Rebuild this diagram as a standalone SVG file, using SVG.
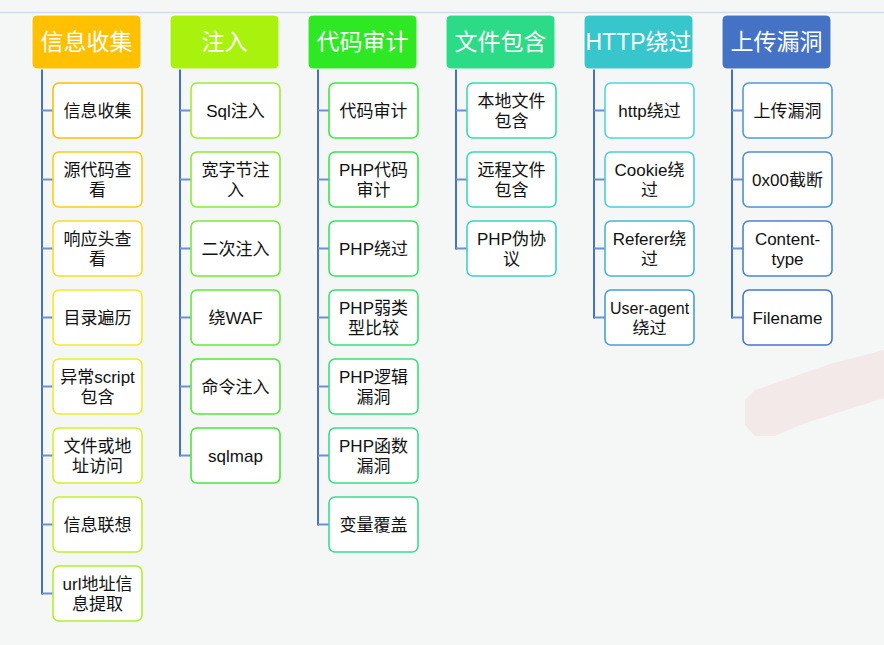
<svg xmlns="http://www.w3.org/2000/svg" width="884" height="645" viewBox="0 0 884 645">
<style>
text{font-family:"Liberation Sans","Noto Sans CJK SC",sans-serif;text-anchor:middle;}
.h text{fill:#ffffff;font-size:23px;}
.h rect{stroke:#ffffff;stroke-width:1;}
.c rect{fill:#ffffff;stroke-width:1.6;}
.c text{fill:#111111;font-size:17px;}
.sp{stroke:#4472C4;stroke-width:2;fill:none;}
.br{stroke:#6F8FD0;stroke-width:1.8;fill:none;}
</style>
<rect x="0" y="0" width="884" height="645" fill="#F5F6F6"/>
<line x1="0" y1="12.5" x2="884" y2="12.5" stroke="#D3DCEC" stroke-width="1.6"/>
<polygon points="745,400 755,390 790,378 830,364 884,350 884,398 840,412 800,425 775,436 755,436 745,425" fill="#F4E9E9"/>

<g id="connectors">
<path class="sp" d="M42,69 V594.5"/>
<path class="br" d="M42,110.5H53 M42,179.5H53 M42,248.5H53 M42,317.5H53 M42,386.5H53 M42,455.5H53 M42,524.5H53 M42,593.5H53"/>
<path class="sp" d="M180,69 V456.5"/>
<path class="br" d="M180,110.5H191 M180,179.5H191 M180,248.5H191 M180,317.5H191 M180,386.5H191 M180,455.5H191"/>
<path class="sp" d="M318,69 V525.5"/>
<path class="br" d="M318,110.5H329 M318,179.5H329 M318,248.5H329 M318,317.5H329 M318,386.5H329 M318,455.5H329 M318,524.5H329"/>
<path class="sp" d="M456,69 V249.5"/>
<path class="br" d="M456,110.5H467 M456,179.5H467 M456,248.5H467"/>
<path class="sp" d="M594,69 V318.5"/>
<path class="br" d="M594,110.5H605 M594,179.5H605 M594,248.5H605 M594,317.5H605"/>
<path class="sp" d="M732,69 V318.5"/>
<path class="br" d="M732,110.5H743 M732,179.5H743 M732,248.5H743 M732,317.5H743"/>
</g>

<g id="h1" class="h"><rect x="32" y="15" width="109" height="54" rx="5" fill="#FFC000"/><text x="86.5" y="50">信息收集</text></g>
<g id="h2" class="h"><rect x="170" y="15" width="109" height="54" rx="5" fill="#A9F20E"/><text x="224.5" y="50">注入</text></g>
<g id="h3" class="h"><rect x="308" y="15" width="109" height="54" rx="5" fill="#2EE823"/><text x="362.5" y="50">代码审计</text></g>
<g id="h4" class="h"><rect x="446" y="15" width="109" height="54" rx="5" fill="#2CDB85"/><text x="500.5" y="50">文件包含</text></g>
<g id="h5" class="h"><rect x="584" y="15" width="109" height="54" rx="5" fill="#37C6CC"/><text x="638.5" y="50">HTTP绕过</text></g>
<g id="h6" class="h"><rect x="722" y="15" width="109" height="54" rx="5" fill="#4472C4"/><text x="776.5" y="50">上传漏洞</text></g>

<!-- column 1 -->
<g id="c1-1" class="c"><rect x="53" y="83" width="89" height="55" rx="6" stroke="#FFC000"/><text x="97.5" y="116.5">信息收集</text></g>
<g id="c1-2" class="c"><rect x="53" y="152" width="89" height="55" rx="6" stroke="#FFCC14"/><text x="97.5" y="175.5">源代码查</text><text x="97.5" y="195.5">看</text></g>
<g id="c1-3" class="c"><rect x="53" y="221" width="89" height="55" rx="6" stroke="#FFD924"/><text x="97.5" y="244.5">响应头查</text><text x="97.5" y="264.5">看</text></g>
<g id="c1-4" class="c"><rect x="53" y="290" width="89" height="55" rx="6" stroke="#F6EA2A"/><text x="97.5" y="323.5">目录遍历</text></g>
<g id="c1-5" class="c"><rect x="53" y="359" width="89" height="55" rx="6" stroke="#E6F02C"/><text x="97.5" y="382.5">异常script</text><text x="97.5" y="402.5">包含</text></g>
<g id="c1-6" class="c"><rect x="53" y="428" width="89" height="55" rx="6" stroke="#D4F02C"/><text x="97.5" y="451.5">文件或地</text><text x="97.5" y="471.5">址访问</text></g>
<g id="c1-7" class="c"><rect x="53" y="497" width="89" height="55" rx="6" stroke="#C2F02C"/><text x="97.5" y="530.5">信息联想</text></g>
<g id="c1-8" class="c"><rect x="53" y="566" width="89" height="55" rx="6" stroke="#AEEF2E"/><text x="97.5" y="589.5">url地址信</text><text x="97.5" y="609.5">息提取</text></g>

<!-- column 2 -->
<g id="c2-1" class="c"><rect x="191" y="83" width="89" height="55" rx="6" stroke="#9AF030"/><text x="235.5" y="116.5">Sql注入</text></g>
<g id="c2-2" class="c"><rect x="191" y="152" width="89" height="55" rx="6" stroke="#86EE32"/><text x="235.5" y="175.5">宽字节注</text><text x="235.5" y="195.5">入</text></g>
<g id="c2-3" class="c"><rect x="191" y="221" width="89" height="55" rx="6" stroke="#74EC36"/><text x="235.5" y="254.5">二次注入</text></g>
<g id="c2-4" class="c"><rect x="191" y="290" width="89" height="55" rx="6" stroke="#62EA38"/><text x="235.5" y="323.5">绕WAF</text></g>
<g id="c2-5" class="c"><rect x="191" y="359" width="89" height="55" rx="6" stroke="#56E83A"/><text x="235.5" y="392.5">命令注入</text></g>
<g id="c2-6" class="c"><rect x="191" y="428" width="89" height="55" rx="6" stroke="#4AE83A"/><text x="235.5" y="461.5">sqlmap</text></g>

<!-- column 3 -->
<g id="c3-1" class="c"><rect x="329" y="83" width="89" height="55" rx="6" stroke="#3EE840"/><text x="373.5" y="116.5">代码审计</text></g>
<g id="c3-2" class="c"><rect x="329" y="152" width="89" height="55" rx="6" stroke="#3AE652"/><text x="373.5" y="175.5">PHP代码</text><text x="373.5" y="195.5">审计</text></g>
<g id="c3-3" class="c"><rect x="329" y="221" width="89" height="55" rx="6" stroke="#38E462"/><text x="373.5" y="254.5">PHP绕过</text></g>
<g id="c3-4" class="c"><rect x="329" y="290" width="89" height="55" rx="6" stroke="#36E270"/><text x="373.5" y="313.5">PHP弱类</text><text x="373.5" y="333.5">型比较</text></g>
<g id="c3-5" class="c"><rect x="329" y="359" width="89" height="55" rx="6" stroke="#36E07C"/><text x="373.5" y="382.5">PHP逻辑</text><text x="373.5" y="402.5">漏洞</text></g>
<g id="c3-6" class="c"><rect x="329" y="428" width="89" height="55" rx="6" stroke="#36DE88"/><text x="373.5" y="451.5">PHP函数</text><text x="373.5" y="471.5">漏洞</text></g>
<g id="c3-7" class="c"><rect x="329" y="497" width="89" height="55" rx="6" stroke="#38DC94"/><text x="373.5" y="530.5">变量覆盖</text></g>

<!-- column 4 -->
<g id="c4-1" class="c"><rect x="467" y="83" width="89" height="55" rx="6" stroke="#3ADBA8"/><text x="511.5" y="106.5">本地文件</text><text x="511.5" y="126.5">包含</text></g>
<g id="c4-2" class="c"><rect x="467" y="152" width="89" height="55" rx="6" stroke="#3CD8B8"/><text x="511.5" y="175.5">远程文件</text><text x="511.5" y="195.5">包含</text></g>
<g id="c4-3" class="c"><rect x="467" y="221" width="89" height="55" rx="6" stroke="#3CD2C4"/><text x="511.5" y="244.5">PHP伪协</text><text x="511.5" y="264.5">议</text></g>

<!-- column 5 -->
<g id="c5-1" class="c"><rect x="605" y="83" width="89" height="55" rx="6" stroke="#50D6DA"/><text x="649.5" y="116.5">http绕过</text></g>
<g id="c5-2" class="c"><rect x="605" y="152" width="89" height="55" rx="6" stroke="#4CCCDA"/><text x="649.5" y="175.5">Cookie绕</text><text x="649.5" y="195.5">过</text></g>
<g id="c5-3" class="c"><rect x="605" y="221" width="89" height="55" rx="6" stroke="#4AB4D8"/><text x="649.5" y="244.5">Referer绕</text><text x="649.5" y="264.5">过</text></g>
<g id="c5-4" class="c"><rect x="605" y="290" width="89" height="55" rx="6" stroke="#4A9ED6"/><text x="649.5" y="313.5" style="font-size:16px">User-agent</text><text x="649.5" y="333.5">绕过</text></g>

<!-- column 6 -->
<g id="c6-1" class="c"><rect x="743" y="83" width="89" height="55" rx="6" stroke="#5598D6"/><text x="787.5" y="116.5">上传漏洞</text></g>
<g id="c6-2" class="c"><rect x="743" y="152" width="89" height="55" rx="6" stroke="#4F8ED4"/><text x="787.5" y="185.5">0x00截断</text></g>
<g id="c6-3" class="c"><rect x="743" y="221" width="89" height="55" rx="6" stroke="#4A82D0"/><text x="787.5" y="244.5">Content-</text><text x="787.5" y="264.5">type</text></g>
<g id="c6-4" class="c"><rect x="743" y="290" width="89" height="55" rx="6" stroke="#4676CC"/><text x="787.5" y="323.5">Filename</text></g>
</svg>
